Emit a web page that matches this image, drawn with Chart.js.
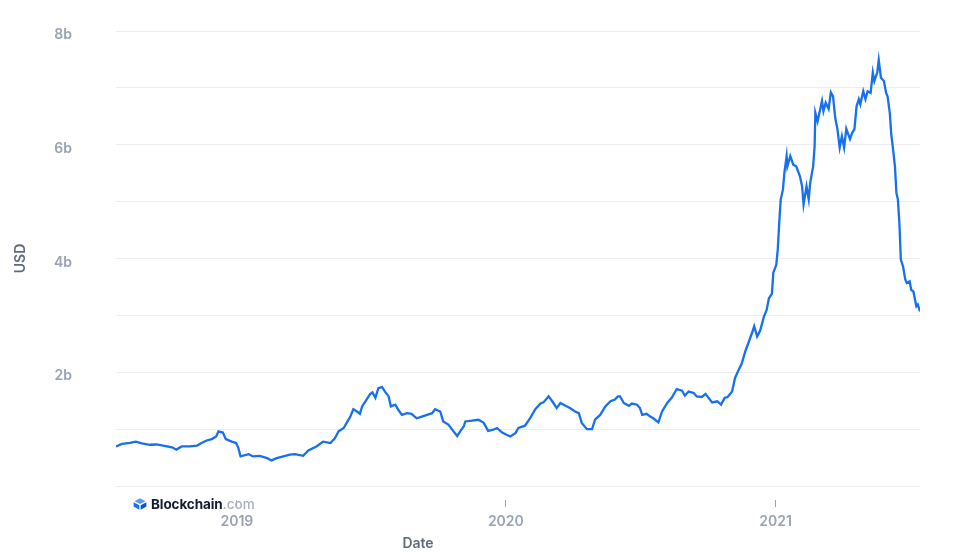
<!DOCTYPE html>
<html>
<head>
<meta charset="utf-8">
<script src="https://cdn.jsdelivr.net/npm/chart.js@4/dist/chart.umd.min.js"></script>
<style>
html,body{margin:0;padding:0;background:#fff;}
#wrap{position:relative;width:955px;height:552px;overflow:hidden;}
#logo{position:absolute;left:133px;top:496px;height:16px;display:flex;align-items:center;font-family:Inter,sans-serif;font-size:13.5px;line-height:16px;white-space:nowrap;}
#logo .b{font-weight:700;color:#121d33;margin-left:4px;letter-spacing:-0.1px;}
#logo .c{font-weight:500;color:#a9b0bd;}
</style>
</head>
<body>
<div id="wrap">
<canvas id="c" width="955" height="552"></canvas>
<div id="logo"><svg width="14" height="12" viewBox="0 0 14 12"><polygon points="7,0.3 12.6,3.2 7,6.1 1.4,3.2" fill="#5b9bf8"/><polygon points="0.6,4.3 6.3,7.2 6.3,11.8 0.6,8.6" fill="#1a6ff0"/><polygon points="13.4,4.3 7.7,7.2 7.7,11.8 13.4,8.6" fill="#0b55c9"/></svg><span class="b">Blockchain</span><span class="c">.com</span></div>
</div>
<script>
const startDate = '2018-07-21';
const endDate = '2021-07-16';
const yearTicks = ['2019-01-01', '2020-01-01', '2021-01-01'];
const yTickLabels = {2: '2b', 4: '4b', 6: '6b', 8: '8b'};
const yAxisTitle = 'USD';
const xAxisTitle = 'Date';

const dates = [
'2018-07-21','2018-07-29','2018-08-09','2018-08-17','2018-08-25','2018-09-05','2018-09-14','2018-09-23','2018-10-05','2018-10-11','2018-10-18','2018-10-29','2018-11-08','2018-11-14','2018-11-21','2018-11-28','2018-12-04','2018-12-07','2018-12-13','2018-12-17','2018-12-25','2018-12-31',
'2019-01-03','2019-01-06','2019-01-17','2019-01-23','2019-02-01','2019-02-11','2019-02-17','2019-02-24','2019-03-05','2019-03-14','2019-03-21','2019-04-01','2019-04-08','2019-04-19','2019-04-28','2019-05-08','2019-05-14','2019-05-19','2019-05-26','2019-05-30','2019-06-04','2019-06-08','2019-06-13','2019-06-17','2019-06-20','2019-06-26','2019-07-01','2019-07-04','2019-07-08','2019-07-12','2019-07-17','2019-07-21','2019-07-26','2019-07-29','2019-08-04','2019-08-08','2019-08-13','2019-08-20','2019-08-26','2019-09-02','2019-09-09','2019-09-16','2019-09-23','2019-09-27','2019-10-04','2019-10-08','2019-10-15','2019-10-22','2019-10-27','2019-10-31','2019-11-05','2019-11-07','2019-11-16','2019-11-25','2019-12-02','2019-12-08','2019-12-15','2019-12-20','2019-12-27',
'2020-01-02','2020-01-07','2020-01-14','2020-01-18','2020-01-27','2020-02-03','2020-02-10','2020-02-17','2020-02-21','2020-02-28','2020-03-04','2020-03-10','2020-03-15','2020-03-22','2020-03-28','2020-04-04','2020-04-09','2020-04-13','2020-04-20','2020-04-27','2020-05-01','2020-05-08','2020-05-15','2020-05-22','2020-05-28','2020-06-01','2020-06-04','2020-06-09','2020-06-16','2020-06-20','2020-06-27','2020-07-01','2020-07-04','2020-07-10','2020-07-15','2020-07-19','2020-07-26','2020-07-31','2020-08-07','2020-08-13','2020-08-20','2020-08-27','2020-08-31','2020-09-05','2020-09-12','2020-09-16','2020-09-23','2020-09-28','2020-10-02','2020-10-07','2020-10-14','2020-10-19','2020-10-24','2020-10-28','2020-11-03','2020-11-07','2020-11-12','2020-11-16','2020-11-21','2020-11-25','2020-11-30','2020-12-03','2020-12-07','2020-12-11','2020-12-16','2020-12-20','2020-12-23','2020-12-27','2020-12-29',
'2021-01-02','2021-01-04','2021-01-06','2021-01-08','2021-01-11','2021-01-13','2021-01-16','2021-01-17','2021-01-21','2021-01-25','2021-01-29','2021-02-03','2021-02-06','2021-02-08','2021-02-12','2021-02-15','2021-02-17','2021-02-21','2021-02-23','2021-02-24','2021-02-27','2021-03-02','2021-03-05','2021-03-07','2021-03-10','2021-03-14','2021-03-17','2021-03-20','2021-03-23','2021-03-26','2021-03-29','2021-04-01','2021-04-04','2021-04-07','2021-04-12','2021-04-15','2021-04-18','2021-04-21','2021-04-24','2021-04-26','2021-04-30','2021-05-03','2021-05-06','2021-05-10','2021-05-13','2021-05-15','2021-05-19','2021-05-21','2021-05-24','2021-05-28','2021-05-31','2021-06-02','2021-06-05','2021-06-07','2021-06-09','2021-06-12','2021-06-14','2021-06-16','2021-06-18','2021-06-20','2021-06-23','2021-06-26','2021-06-28','2021-07-02','2021-07-04','2021-07-07','2021-07-11','2021-07-13','2021-07-16'
];

// values in billions of USD
const values = [
0.695,0.74,0.76,0.78,0.75,0.725,0.73,0.71,0.68,0.64,0.695,0.695,0.71,0.755,0.80,0.825,0.87,0.96,0.94,0.825,0.78,0.755,
0.67,0.52,0.56,0.52,0.53,0.49,0.45,0.49,0.52,0.55,0.56,0.53,0.625,0.695,0.78,0.755,0.84,0.96,1.02,1.11,1.22,1.35,1.31,1.27,1.40,1.52,1.62,1.645,1.55,1.72,1.74,1.66,1.575,1.40,1.43,1.34,1.25,1.28,1.27,1.19,1.22,1.25,1.28,1.35,1.31,1.135,1.08,0.96,0.88,0.96,1.05,1.135,1.15,1.165,1.11,0.97,0.99,1.02,0.94,
0.90,0.87,0.93,1.02,1.06,1.195,1.35,1.45,1.47,1.575,1.49,1.37,1.46,1.41,1.37,1.31,1.28,1.11,1.00,1.00,1.165,1.25,1.40,1.49,1.52,1.575,1.575,1.46,1.41,1.45,1.43,1.37,1.25,1.27,1.22,1.19,1.12,1.31,1.46,1.55,1.705,1.675,1.59,1.66,1.635,1.575,1.565,1.62,1.55,1.47,1.49,1.43,1.55,1.565,1.66,1.90,2.045,2.15,2.37,2.51,2.69,2.81,2.63,2.73,2.97,3.10,3.30,3.38,3.75,
3.89,4.16,4.63,5.04,5.21,5.51,5.80,5.62,5.80,5.65,5.62,5.45,5.27,4.95,5.27,5.04,5.33,5.62,5.97,6.56,6.41,6.59,6.77,6.59,6.74,6.63,6.92,6.85,6.47,6.27,5.95,6.15,5.95,6.28,6.10,6.21,6.27,6.68,6.80,6.71,6.94,6.80,6.94,6.91,7.27,7.12,7.27,7.49,7.18,7.12,6.91,6.85,6.56,6.18,5.97,5.62,5.15,5.04,4.63,3.98,3.86,3.63,3.57,3.60,3.45,3.42,3.16,3.19,3.07
];

const points = dates.map((d, i) => ({x: Date.parse(d), y: values[i]}));

const labelFont = {family: 'Inter', size: 14, weight: '600'};
const tickColor = '#98a2b3';
const titleColor = '#5f6b7c';

const xTitlePlugin = {
  id: 'xTitle',
  afterDraw(chart) {
    const ctx = chart.ctx;
    ctx.save();
    ctx.font = '600 14px Inter';
    ctx.fillStyle = titleColor;
    ctx.textAlign = 'center';
    ctx.textBaseline = 'middle';
    ctx.fillText(xAxisTitle, chart.chartArea.left + 302, 544);
    ctx.restore();
  }
};

new Chart(document.getElementById('c'), {
  type: 'line',
  data: {
    datasets: [{
      data: points,
      borderColor: '#1670ef',
      borderWidth: 2.3,
      pointRadius: 0,
      tension: 0,
      fill: false
    }]
  },
  options: {
    responsive: false,
    animation: false,
    layout: {padding: {top: 31, right: 35, bottom: 0, left: 0}},
    plugins: {legend: {display: false}, tooltip: {enabled: false}},
    scales: {
      x: {
        type: 'linear',
        min: Date.parse(startDate),
        max: Date.parse(endDate),
        afterBuildTicks(s) { s.ticks = yearTicks.map(t => ({value: Date.parse(t)})); },
        afterFit(s) { s.height = 66; s.paddingLeft = 0; s.paddingRight = 0; },
        ticks: {
          callback: v => String(new Date(v).getUTCFullYear()),
          color: tickColor,
          font: labelFont,
          padding: 6,
          maxRotation: 0,
          autoSkip: false
        },
        grid: {
          display: true,
          drawOnChartArea: false,
          drawTicks: true,
          tickLength: 21,
          tickColor: '#9aa3b5',
          tickWidth: 1,
          tickBorderDash: [0, 14, 7, 100]
        },
        border: {display: false}
      },
      y: {
        min: 0,
        max: 8,
        afterFit(s) { s.width = 116; s.paddingTop = 0; s.paddingBottom = 0; },
        ticks: {
          stepSize: 1,
          callback: v => yTickLabels[v] || '',
          color: tickColor,
          font: labelFont,
          padding: 44,
          labelOffset: 4
        },
        grid: {color: '#ebedf1', drawTicks: false, lineWidth: 1},
        border: {display: false},
        title: {
          display: true,
          text: yAxisTitle,
          color: titleColor,
          font: labelFont,
          padding: {top: 12, bottom: 0}
        }
      }
    }
  },
  plugins: [xTitlePlugin]
});
</script>
</body>
</html>
